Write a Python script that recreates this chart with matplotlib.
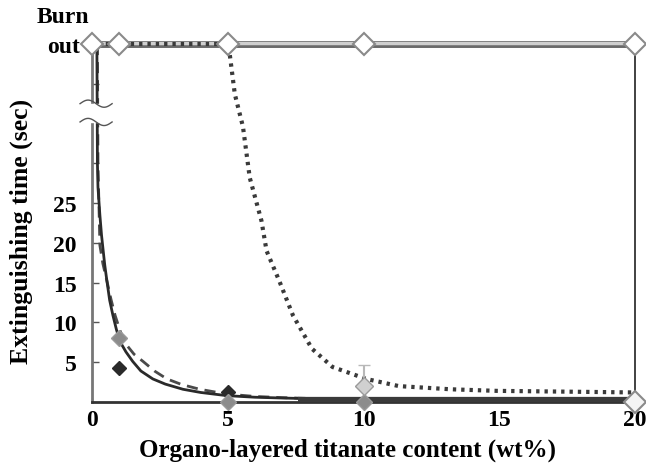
import numpy as np
from matplotlib import pyplot as plt
from matplotlib.transforms import blended_transform_factory

plt.rcParams['font.family'] = ['Liberation Serif', 'DejaVu Serif']
plt.rcParams['font.weight'] = 'bold'
plt.rcParams['axes.labelweight'] = 'bold'

BURN = 45  # "Burn out" level on the axis

# measured points
x_pts = [0, 1, 5, 10, 20]
black_y = [BURN, 4.3, 1.2, 0, 0]
gray_y = [BURN, 8.1, 0, 0, 0]
burn_y = [BURN, BURN, BURN, BURN, BURN]
light_x = [10, 20]
light_y = [2.0, 0]
light_err = [2.6, 0]

# fitted curves
solid_x = [0.18, 0.2, 0.22, 0.29, 0.35, 0.4, 0.47, 0.55, 0.65, 0.77, 0.9, 1.03, 1.25, 1.5,
           1.8, 2.24, 2.7, 3.35, 4.0, 4.96, 6.0, 7.0, 7.6]
solid_y = [45, 30, 27, 23.5, 21.0, 19.4, 17.2, 15.2, 12.8, 10.9, 9.1, 7.6, 6.3, 5.1,
           3.9, 2.9, 2.25, 1.6, 1.2, 0.8, 0.6, 0.5, 0.45]
dash_x = [0.2, 0.22, 0.29, 0.4, 0.55, 0.7, 0.85, 1.05, 1.29, 1.55, 1.88, 2.3, 2.76, 3.3,
          3.97, 4.96, 6.0, 7.0, 8.0]
dash_y = [45, 30, 19.7, 17.4, 15.2, 12.9, 10.9, 8.8, 7.1, 6.0, 5.1, 3.9, 2.9, 2.2,
          1.6, 1.0, 0.7, 0.55, 0.45]
dot_x = [0.2, 5.0, 5.07, 5.26, 5.56, 5.81, 6.24, 6.43, 6.9, 7.4, 8.1, 8.86, 10.1, 11.3,
         13.2, 14.9, 17.5, 20]
dot_y = [BURN, BURN, 43.8, 38.7, 34.6, 28.2, 22.8, 19.0, 15.2, 10.9, 6.7, 4.4, 2.9, 2.0,
         1.6, 1.4, 1.3, 1.2]
base_x = [7.6, 20]
base_y = [0.3, 0.3]

x_ticks = [0, 5, 10, 15, 20]
y_ticks = [5, 10, 15, 20, 25, 30, 40, 45]
y_labels = ['5', '10', '15', '20', '25', '', '', '']

fig = plt.figure(figsize=(6.46, 4.77), dpi=100)
ax = fig.add_axes([92/646, 1 - 403/477, 543/646, 358/477])

# always-burning series (top line)
ax.plot([0, 20], [BURN, BURN], color='#6a6a6a', lw=5, solid_capstyle='butt', clip_on=False, zorder=2)
ax.plot([0, 20], [BURN + 0.15, BURN + 0.15], color='#cfcfcf', lw=2.5, solid_capstyle='butt',
        clip_on=False, zorder=2)

ax.plot(dot_x, dot_y, color='#3a3a3a', lw=3, ls=(0, (0.8, 1.2)), clip_on=False, zorder=3)
ax.plot(dash_x, dash_y, color='#4a4a4a', lw=2, ls=(0, (4, 2.5)), zorder=3)
ax.plot(solid_x, solid_y, color='#2a2a2a', lw=2, zorder=3)
ax.plot(base_x, base_y, color='#3a3a3a', lw=4.5, solid_capstyle='butt', zorder=3)

ax.plot(x_pts, black_y, 'D', ms=7.5, color='#2a2a2a', clip_on=False, zorder=4)
ax.plot(x_pts, gray_y, 'D', ms=8.5, color='#8c8c8c', mec='#9a9a9a', clip_on=False, zorder=5)
ax.errorbar(light_x, light_y, yerr=[[0, 0], light_err], fmt='D', ms=9, color='#d0d0d0',
            mec='#9a9a9a', ecolor='#b8b8b8', capsize=4, elinewidth=1.5, clip_on=False, zorder=6)
ax.plot(x_pts, burn_y, 'D', ms=11, mfc='white', mec='#8a8a8a', mew=1.5, clip_on=False, zorder=7)
ax.plot([20], [0], 'D', ms=11, mfc='#f4f4f4', mec='#8a8a8a', mew=1.5, clip_on=False, zorder=7)

ax.set_xlim(0, 20)
ax.set_ylim(0, BURN)
ax.set_xticks(x_ticks)
ax.set_yticks(y_ticks)
ax.set_yticklabels(y_labels)
ax.tick_params(axis='y', direction='in', length=5, width=1, pad=11, labelsize=17, color='#555555')
ax.tick_params(axis='x', direction='in', length=3, width=1, pad=5, labelsize=17, color='#555555')

ax.spines['top'].set_visible(False)
ax.spines['left'].set_color('#777777')
ax.spines['left'].set_linewidth(2)
ax.spines['right'].set_color('#333333')
ax.spines['right'].set_linewidth(1.3)
ax.spines['bottom'].set_color('#333333')
ax.spines['bottom'].set_linewidth(2)

# axis break on the y axis
tr = blended_transform_factory(ax.transAxes, ax.transData)
ax.fill_between([-0.012, 0.02], [35.2, 35.2], [37.5, 37.5], color='white', transform=tr,
                clip_on=False, zorder=8)
wx = np.linspace(-0.022, 0.037, 40)
for yc in (35.2, 37.5):
    ax.plot(wx, yc + 0.45 * np.sin((wx + 0.022) / 0.059 * 2 * np.pi), color='#555555', lw=1,
            transform=tr, clip_on=False, zorder=9)

ax.text(-0.053, 48.4, 'Burn', transform=tr, ha='center', va='center', fontsize=17)
ax.text(-0.053, 44.7, 'out', transform=tr, ha='center', va='center', fontsize=17)

ax.set_xlabel('Organo-layered titanate content (wt%)', fontsize=18, labelpad=4)
ax.set_ylabel('Extinguishing time (sec)', fontsize=18.5, labelpad=6)
ax.yaxis.set_label_coords(-0.108, 0.48)
ax.xaxis.set_label_coords(0.47, -0.1)

fig.savefig('out.png', dpi=100)
